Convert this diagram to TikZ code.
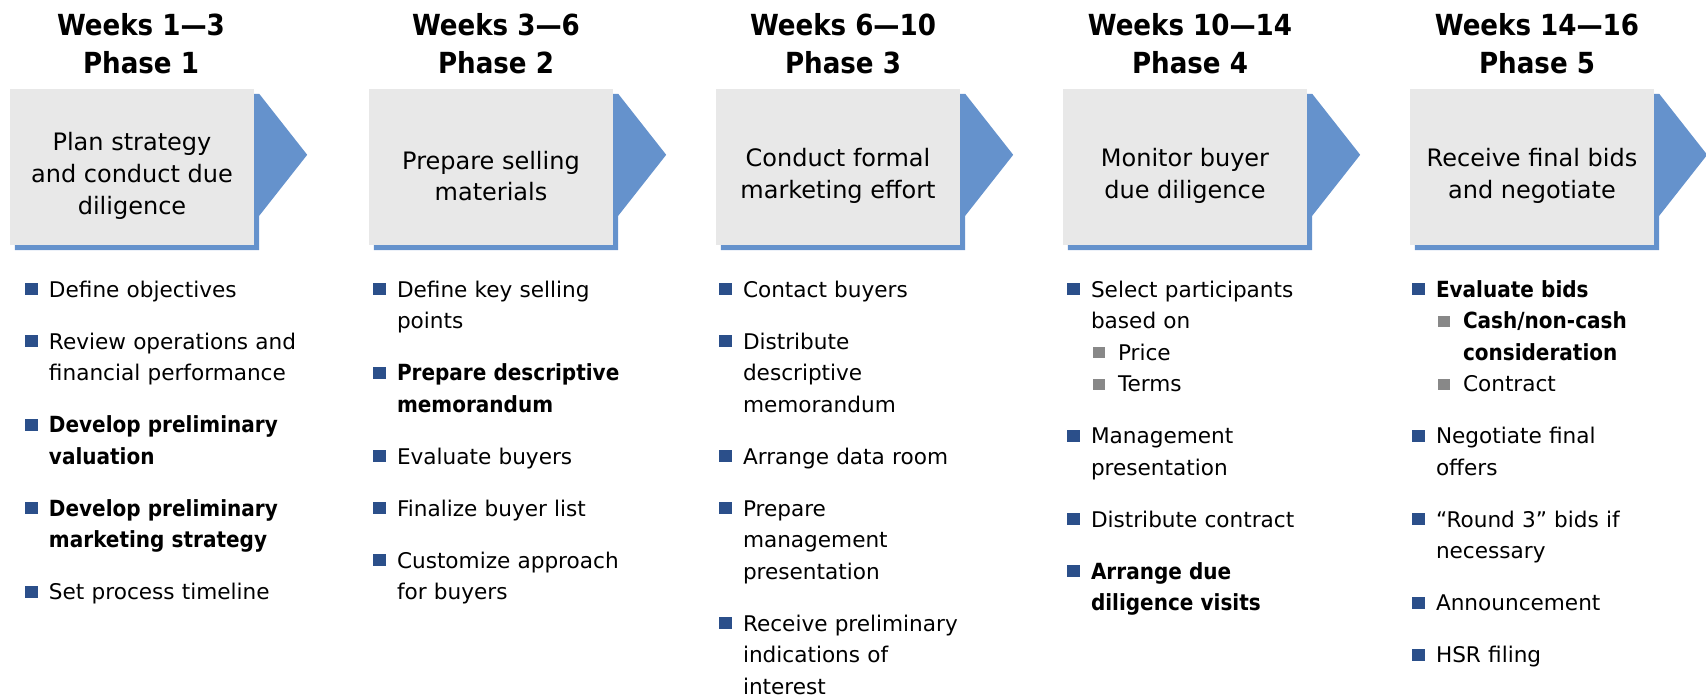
\documentclass[tikz,border=0pt]{standalone}
\usepackage{fontspec}
\setmainfont{DejaVu Sans}[BoldFont={DejaVu Sans Condensed Bold},BoldFeatures={Scale=1.03}]
\usepackage{xcolor}
\usepackage{tikz}
\usetikzlibrary{positioning,calc,backgrounds}
\definecolor{navy}{HTML}{2B4F8A}
\definecolor{chevron}{HTML}{6592CC}
\definecolor{panel}{HTML}{E8E8E8}
\definecolor{subgray}{HTML}{888888}
\newcommand{\bsq}{\textcolor{navy}{\rule[2pt]{13pt}{12pt}}}
\newcommand{\gsq}{\hspace*{2pt}\textcolor{subgray}{\rule[2pt]{12pt}{11pt}}}
\newenvironment{phaselist}{\begin{list}{\bsq}{\setlength{\leftmargin}{24pt}\setlength{\labelwidth}{24pt}\setlength{\labelsep}{0pt}\setlength{\itemsep}{20.5pt}\setlength{\parsep}{0pt}\setlength{\topsep}{0pt}\setlength{\partopsep}{0pt}\renewcommand{\makelabel}[1]{##1\hfil}}}{\end{list}}
\newenvironment{sublist}{\begin{list}{\gsq}{\setlength{\leftmargin}{27pt}\setlength{\labelwidth}{27pt}\setlength{\labelsep}{0pt}\setlength{\itemsep}{0pt}\setlength{\parsep}{0pt}\setlength{\topsep}{0pt}\setlength{\partopsep}{0pt}\renewcommand{\makelabel}[1]{##1\hfil}}}{\end{list}}

\begin{document}
\begin{tikzpicture}[x=1pt,y=-1pt,every node/.style={inner sep=0pt},phasebox/.style={fill=panel,minimum width=244pt,minimum height=156pt},boxtext/.style={align=center,font=\fontsize{24}{31.7}\selectfont},head/.style={xshift=5pt,align=center,font=\fontsize{28.2}{38}\selectfont\bfseries},steps/.style={anchor=base west,text width=330pt,align=left,font=\fontsize{21.6}{31.5}\selectfont}]
\useasboundingbox (0,0) rectangle (1706,697);
\node[phasebox] (b1) at (132,167) {};
\node[phasebox] (b2) at (491,167) {};
\node[phasebox] (b3) at (838,167) {};
\node[phasebox] (b4) at (1185,167) {};
\node[phasebox] (b5) at (1532,167) {};
\node[boxtext] (t1) at ($(b1)+(0,9)$) {Plan strategy\\ and conduct due\\ diligence};
\node[boxtext] (t2) at ($(b2)+(0,9)$) {Prepare selling\\ materials};
\node[boxtext] (t3) at ($(b3)+(0,9)$) {Conduct formal\\ marketing effort};
\node[boxtext] (t4) at ($(b4)+(0,9)$) {Monitor buyer\\ due diligence};
\node[boxtext] (t5) at ($(b5)+(0,9)$) {Receive final bids\\ and negotiate};
\node[head,above=15pt of b1,xshift=4pt] (h1) {Weeks 1—3\\ Phase 1};
\node[head,above=15pt of b2] (h2) {Weeks 3—6\\ Phase 2};
\node[head,above=15pt of b3] (h3) {Weeks 6—10\\ Phase 3};
\node[head,above=15pt of b4] (h4) {Weeks 10—14\\ Phase 4};
\node[head,above=15pt of b5] (h5) {Weeks 14—16\\ Phase 5};
% chevron shadow behind each panel
\begin{scope}[on background layer]
\foreach \b in {b1,b2,b3,b4,b5}
  \fill[chevron] ($(\b.north west)+(5,5)$) -- ($(\b.north east)+(5,5)$) -- ($(\b.north east)+(53,66)$) -- ($(\b.north east)+(5,127)$) -- ($(\b.south east)+(5,5)$) -- ($(\b.south west)+(5,5)$) -- cycle;
\end{scope}
\node[steps] (l1) at ($(b1.south west)+(15,20.5)$) {\begin{phaselist}
\item Define objectives
\item Review operations and\\ financial performance
\item \textbf{Develop preliminary\\ valuation}
\item \textbf{Develop preliminary\\ marketing strategy}
\item Set process timeline
\end{phaselist}};
\node[steps] (l2) at ($(b2.south west)+(4,20.5)$) {\begin{phaselist}
\item Define key selling\\ points
\item \textbf{Prepare descriptive\\ memorandum}
\item Evaluate buyers
\item Finalize buyer list
\item Customize approach\\ for buyers
\end{phaselist}};
\node[steps] (l3) at ($(b3.south west)+(3,20.5)$) {\begin{phaselist}
\item Contact buyers
\item Distribute\\ descriptive\\ memorandum
\item Arrange data room
\item Prepare\\ management\\ presentation
\item Receive preliminary\\ indications of\\ interest
\end{phaselist}};
\node[steps] (l4) at ($(b4.south west)+(4,20.5)$) {\begin{phaselist}
\item Select participants\\ based on
  \begin{sublist}
  \item Price
  \item Terms
  \end{sublist}
\item Management\\ presentation
\item Distribute contract
\item \textbf{Arrange due\\ diligence visits}
\end{phaselist}};
\node[steps] (l5) at ($(b5.south west)+(2,20.5)$) {\begin{phaselist}
\item \textbf{Evaluate bids}
  \begin{sublist}
  \item \textbf{Cash/non-cash\\ consideration}
  \item Contract
  \end{sublist}
\item Negotiate final\\ offers
\item “Round 3” bids if\\ necessary
\item Announcement
\item HSR filing
\end{phaselist}};
\end{tikzpicture}
\end{document}
